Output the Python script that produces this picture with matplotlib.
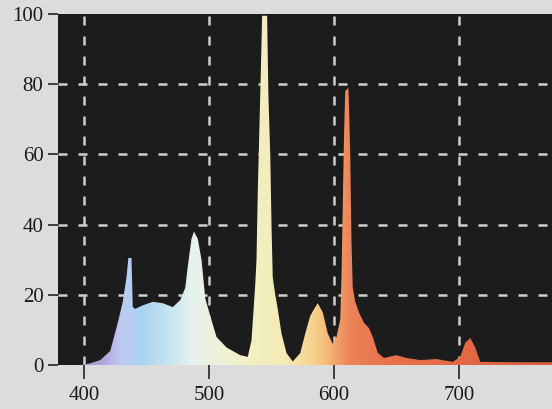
import numpy as np
import matplotlib
matplotlib.use("Agg")
import matplotlib.pyplot as plt
from matplotlib.colors import LinearSegmentedColormap
from matplotlib.patches import Polygon

# spectrum outline (wavelength nm, relative intensity)
wavelength = [398, 405, 413, 421, 427, 431, 434, 435.5, 438, 439, 441, 447,
              455, 463, 471, 477, 481, 483, 486, 488, 491, 494, 497, 501,
              506, 514, 525, 531, 534, 537, 538, 539, 540.5, 541.5, 542.5,
              546.5, 547.5, 549, 550, 551, 553, 555, 558, 562, 567, 573,
              577, 581, 585, 587, 591, 595, 599, 602, 605, 606, 607, 608,
              609, 611.5, 612, 613, 614, 615, 617, 620, 624, 628, 631, 635,
              640, 650, 658, 669, 682, 695, 701, 705, 709, 713, 717, 740, 776]
intensity = [0, 0.5, 1.4, 4, 12, 18, 25, 30.5, 30.5, 16.5, 16, 17,
             18, 17.6, 16.5, 18.5, 22, 28, 36, 38, 36, 30, 19, 14,
             8, 5, 2.8, 2.3, 7, 23, 30, 49, 70, 84, 99.5,
             99.5, 77, 60, 40, 25, 20, 16, 9, 3.4, 1, 3.4,
             9, 14, 16.5, 17.6, 15, 9, 6, 8, 13, 25, 45, 65,
             78, 79, 74, 60, 35, 22, 18, 15, 12, 10.5, 8, 3.5,
             2, 2.8, 2, 1.4, 1.7, 0.9, 2.3, 6.3, 7.7, 5, 0.9, 0.8, 0.8]

x_ticks = [400, 500, 600, 700]
y_ticks = [0, 20, 40, 60, 80, 100]

# colour of the light along the spectrum
color_stops = [(398, "#a590cc"), (415, "#b4a8dc"), (428, "#c0c8f0"),
               (445, "#a8d4f0"), (465, "#c4e2f2"), (485, "#e6f2ee"),
               (505, "#eef2dc"), (530, "#f2f0c4"), (560, "#f4eab4"),
               (578, "#f6d896"), (592, "#f6c07c"), (602, "#f2a068"),
               (612, "#ec8458"), (640, "#e8724c"), (700, "#e46a46"),
               (776, "#d85e3e")]

X_MIN, X_MAX = 379.2, 774.4

fig = plt.figure(figsize=(5.52, 4.09), dpi=100, facecolor="#dcdcdc")
ax = fig.add_axes([58 / 552, 1 - 365 / 409, 494 / 552, 351 / 409])
ax.set_facecolor("#1c1c1c")
ax.set_xlim(X_MIN, X_MAX)
ax.set_ylim(0, 100)

# dashed grid, behind the spectrum
grid_style = dict(color="#cfcfcf", lw=1.8, ls=(0, (3.6, 4.4)), zorder=1)
for gx in x_ticks:
    ax.axvline(gx, **grid_style)
for gy in y_ticks[1:-1]:
    ax.axhline(gy, **grid_style)

# gradient clipped to spectrum outline
lo, hi = color_stops[0][0], color_stops[-1][0]
cmap = LinearSegmentedColormap.from_list(
    "spec", [((w - lo) / (hi - lo), c) for w, c in color_stops])
grad = np.linspace(0, 1, 800).reshape(1, -1)
img = ax.imshow(grad, cmap=cmap, aspect="auto", extent=[lo, hi, 0, 100],
                origin="lower", zorder=2, interpolation="bilinear")
verts = [(wavelength[0], 0)] + list(zip(wavelength, intensity)) + [(wavelength[-1], 0)]
poly = Polygon(verts, closed=True, facecolor="none", edgecolor="none")
ax.add_patch(poly)
img.set_clip_path(poly)

for s in ax.spines.values():
    s.set_visible(False)

ax.set_xticks(x_ticks)
ax.set_yticks(y_ticks)
ax.tick_params(axis="x", length=10, width=1.3, color="#333333", pad=5,
               labelsize=15, labelcolor="#1a1a1a")
ax.tick_params(axis="y", length=7.5, width=1.3, color="#333333", pad=3,
               labelsize=15, labelcolor="#1a1a1a")
for lab in ax.get_xticklabels() + ax.get_yticklabels():
    lab.set_family("Liberation Serif")

fig.savefig("out.png", dpi=100, facecolor=fig.get_facecolor())
